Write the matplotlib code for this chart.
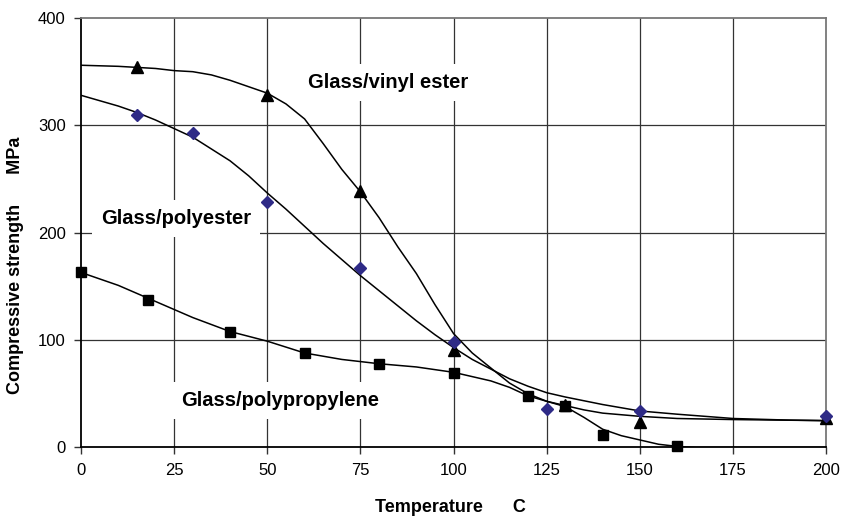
import matplotlib
matplotlib.use('Agg')
import matplotlib.pyplot as plt

plt.rcParams['font.family'] = ['Liberation Sans', 'DejaVu Sans']

# measured points
ve_x = [15, 50, 75, 100, 130, 150, 200]
ve_y = [354, 328, 239, 91, 40, 24, 27]
pe_x = [15, 30, 50, 75, 100, 125, 150, 200]
pe_y = [310, 293, 229, 167, 98, 36, 34, 29]
pp_x = [0, 18, 40, 60, 80, 100, 120, 130, 140, 160]
pp_y = [163, 137, 108, 88, 78, 69, 48, 39, 12, 1]

# fitted curves
ve_cx = [0, 10, 20, 25, 30, 35, 40, 45, 50, 55, 60, 65, 70, 75, 80, 85, 90, 95, 100,
         105, 110, 115, 120, 125, 130, 135, 140, 150, 160, 175, 200]
ve_cy = [356, 355, 353, 351, 350, 347, 342, 336, 330, 320, 306, 283, 259, 238, 214, 187, 162, 133, 106,
         88, 74, 60, 50, 43, 39, 35, 32, 29, 27, 26, 25]
pe_cx = [0, 10, 15, 20, 25, 30, 35, 40, 45, 50, 55, 60, 65, 70, 75, 80, 85, 90, 95, 100,
         105, 110, 115, 120, 125, 130, 140, 150, 160, 175, 190, 200]
pe_cy = [328, 318, 312, 305, 297, 289, 278, 267, 253, 237, 222, 206, 190, 175, 160, 146, 132, 118, 105, 93,
         82, 73, 64, 57, 51, 47, 40, 34, 31, 27, 25.5, 25]
pp_cx = [0, 10, 20, 30, 40, 50, 60, 70, 80, 90, 100, 110, 115, 120, 125, 130, 135, 140, 145, 150, 155, 160, 165, 200]
pp_cy = [163, 151, 136, 121, 108, 99, 88, 82, 78, 75, 70, 62, 56, 48, 43, 38, 28, 17, 11, 7, 3, 1, 0, 0]

fig = plt.figure(figsize=(8.43, 5.19), dpi=100)
ax = fig.add_axes([0.0961, 0.1378, 0.884, 0.8275])

for xx in [25, 50, 75, 100, 125, 150, 175]:
    ax.axvline(xx, color='#333333', lw=0.9, zorder=1)
for yy in [100, 200, 300]:
    ax.axhline(yy, color='#333333', lw=0.9, zorder=1)

ax.plot(ve_cx, ve_cy, color='black', lw=1.1, zorder=3)
ax.plot(pe_cx, pe_cy, color='black', lw=1.1, zorder=3)
ax.plot(pp_cx, pp_cy, color='black', lw=1.1, zorder=3)

ax.plot(ve_x, ve_y, ls='none', marker='^', color='black', ms=8, zorder=4, clip_on=False)
ax.plot(pe_x, pe_y, ls='none', marker='D', color='#2E2A86', ms=6, zorder=4, clip_on=False)
ax.plot(pp_x, pp_y, ls='none', marker='s', color='black', ms=7, zorder=4, clip_on=False)

box = dict(boxstyle='square,pad=0.45', fc='white', ec='none')
ax.text(82.5, 340, 'Glass/vinyl ester', fontsize=14.5, fontweight='bold', ha='center', va='center', bbox=box, zorder=2)
ax.text(25.5, 213, 'Glass/polyester', fontsize=14.5, fontweight='bold', ha='center', va='center', bbox=box, zorder=2)
ax.text(53.5, 44, 'Glass/polypropylene', fontsize=14.5, fontweight='bold', ha='center', va='center', bbox=box, zorder=2)

ax.set_xlim(0, 200)
ax.set_ylim(0, 400)
ax.set_xticks([0, 25, 50, 75, 100, 125, 150, 175, 200])
ax.set_yticks([0, 100, 200, 300, 400])
ax.tick_params(direction='out', length=5, width=1, labelsize=12, pad=6, color='#333333')

for s in ['left', 'bottom']:
    ax.spines[s].set_color('black')
    ax.spines[s].set_linewidth(1.3)
for s in ['top', 'right']:
    ax.spines[s].set_color('#777777')
    ax.spines[s].set_linewidth(1.3)

fig.text(450 / 843, 1 - 507 / 519, 'Temperature      C', fontsize=13, fontweight='bold', ha='center', va='center')
fig.text(16 / 843, 1 - 265 / 519, 'Compressive strength      MPa', fontsize=13, fontweight='bold',
         ha='center', va='center', rotation=90)

fig.savefig('out.png', dpi=100)
